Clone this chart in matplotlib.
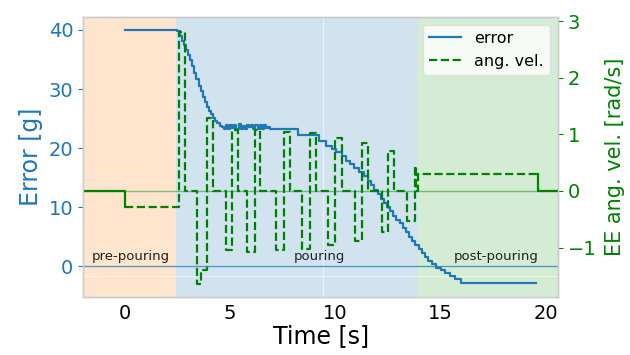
#!/usr/bin/env python3

# Pouring experiment: weight error and end-effector angular velocity over time.

import matplotlib.pyplot as plt

# Error of poured weight [g] (step signal).
err_t = [0.0, 2.5, 2.6, 2.7, 2.8, 2.9, 3.0, 3.1, 3.2, 3.3, 3.4, 3.5, 3.6, 3.7,
         3.8, 3.9, 4.0, 4.1, 4.2, 4.3, 4.4, 4.5, 4.6, 4.7,
         4.8, 4.9, 5.0, 5.1, 5.2, 5.3, 5.4, 5.5, 5.6, 5.7, 5.8, 5.9, 6.0,
         6.1, 6.2, 6.3, 6.4, 6.5, 6.6, 6.7, 6.8, 6.9,
         7.0, 8.2, 9.2, 9.55, 9.85, 10.05, 10.3, 10.5, 10.7, 10.9, 11.1,
         11.35, 11.55, 11.7, 11.85, 12.0, 12.15, 12.3, 12.45, 12.6, 12.75,
         12.9, 13.05, 13.2, 13.35, 13.5, 13.65, 13.8, 13.95, 14.1, 14.25,
         14.4, 14.6, 14.8, 15.0, 15.2, 15.45, 15.7, 15.95, 19.55]
err_g = [40.0, 39.8, 39.0, 38.2, 37.4, 36.6, 35.8, 35.0, 33.9, 32.8, 31.7,
         30.6, 29.6, 28.7, 27.8, 27.0, 26.3, 25.7, 25.1, 24.6, 24.2, 23.8,
         23.5, 23.3,
         23.9, 23.2, 24.0, 23.4, 23.9, 23.2, 24.1, 23.3, 23.8, 23.2, 24.0,
         23.5, 23.9, 23.2, 24.0, 23.3, 23.9, 23.2, 24.0, 23.4, 23.6, 23.3,
         23.2, 22.2, 21.2, 20.4, 19.9, 19.3, 18.6, 17.9, 17.3, 16.6, 16.0,
         15.3, 14.5, 13.7, 13.0, 12.2, 11.4, 10.7, 10.0, 9.3, 8.6,
         7.9, 7.3, 6.5, 5.8, 5.0, 4.3, 3.6, 2.9, 2.2, 1.5,
         0.9, 0.4, -0.2, -0.6, -1.1, -1.6, -2.1, -2.9, -2.9]

# EE angular velocity [rad/s] during the trial (step signal).
vel_t = [0.0, 2.58, 2.85, 3.43, 3.6, 3.9, 4.2, 4.8, 5.1, 5.37, 5.8, 6.18,
         6.42, 7.2, 7.54, 7.83, 8.39, 8.77, 9.09, 9.66, 10.0, 10.32, 10.92,
         11.27, 11.54, 12.19, 12.48, 12.8, 13.38, 13.76, 13.84, 13.92, 19.6]
vel_r = [-0.29, 2.81, 0.0, -1.64, -1.4, 1.29, 0.0, -1.05, 1.08, 0.0, -1.08,
         1.08, 0.0, -1.05, 1.05, 0.0, -1.02, 1.02, 0.0, -0.96, 0.94, 0.0,
         -0.88, 0.85, 0.0, -0.73, 0.70, 0.0, -0.53, 0.44, 0.0, 0.30, 0.30]

# Commanded velocity outside the trial (solid parts).
pre_t = [-1.98, 0.0, 0.0]
pre_v = [0.0, 0.0, -0.29]
post_t = [19.6, 19.6, 20.58]
post_v = [0.30, 0.0, 0.0]

# Phases.
phases = ['pre-pouring', 'pouring', 'post-pouring']
phase_start = [-1.98, 2.42, 13.92]
phase_end = [2.42, 13.92, 20.58]
phase_color = ['tab:orange', 'tab:blue', 'tab:green']
label_x = [0.3, 9.25, 17.65]

blue = '#1f77b4'
green = 'green'

fig, ax = plt.subplots(figsize=(6.3, 3.55), dpi=100)
plt.subplots_adjust(left=0.132, right=0.886, bottom=0.164, top=0.953)
ax2 = ax.twinx()

for s, e, c in zip(phase_start, phase_end, phase_color):
    ax.axvspan(s, e, color=c, alpha=0.2, lw=0, zorder=0)
for name, x in zip(phases, label_x):
    ax.text(x, 0.6, name, ha='center', va='bottom', fontsize=9.5,
            color='#222222', zorder=3)

# faint seams seen in the original
ax.axvline(9.4, color='white', lw=0.8, alpha=0.5, zorder=0.5)
ax.axhline(-1.65, color='white', lw=0.8, alpha=0.5, zorder=0.5)

ax.axhline(0, color=blue, lw=1.0, alpha=0.7, zorder=1)
l1, = ax.plot(err_t, err_g, drawstyle='steps-post', color=blue, lw=1.6,
              label='error', zorder=2)

ax2.axhline(0, color=green, lw=1.0, alpha=0.45, zorder=1)
l2, = ax2.plot(vel_t, vel_r, drawstyle='steps-post', color=green, lw=1.6,
               ls='--', label='ang. vel.', zorder=2)
ax2.plot(pre_t, pre_v, color=green, lw=1.6, zorder=2)
ax2.plot(post_t, post_v, color=green, lw=1.6, zorder=2)

ax.set_xlim(-1.98, 20.58)
ax.set_ylim(-5.15, 42.25)
ax2.set_ylim(-1.87, 3.08)
ax.set_xticks([0, 5, 10, 15, 20])
ax.set_yticks([0, 10, 20, 30, 40])
ax2.set_yticks([-1, 0, 1, 2, 3])

ax.set_xlabel('Time [s]', fontsize=17, labelpad=1)
ax.set_ylabel('Error [g]', fontsize=17, color=blue, labelpad=4)
ax2.set_ylabel('EE ang. vel. [rad/s]', fontsize=15, color=green, labelpad=6)

ax.tick_params(axis='x', labelsize=14, length=0, pad=5)
ax.tick_params(axis='y', labelsize=14, colors=blue, length=3.5, width=0.8)
ax2.tick_params(axis='y', labelsize=14, colors=green, length=3.5, width=0.8)

for a in (ax, ax2):
    for sp in a.spines.values():
        sp.set_color('#cccccc')
        sp.set_linewidth(1.0)

ax2.legend([l1, l2], ['error', 'ang. vel.'], loc='upper right', fontsize=11.5,
           framealpha=0.8, edgecolor='#dddddd', handlelength=2.0)

plt.savefig('out.png', dpi=100)
